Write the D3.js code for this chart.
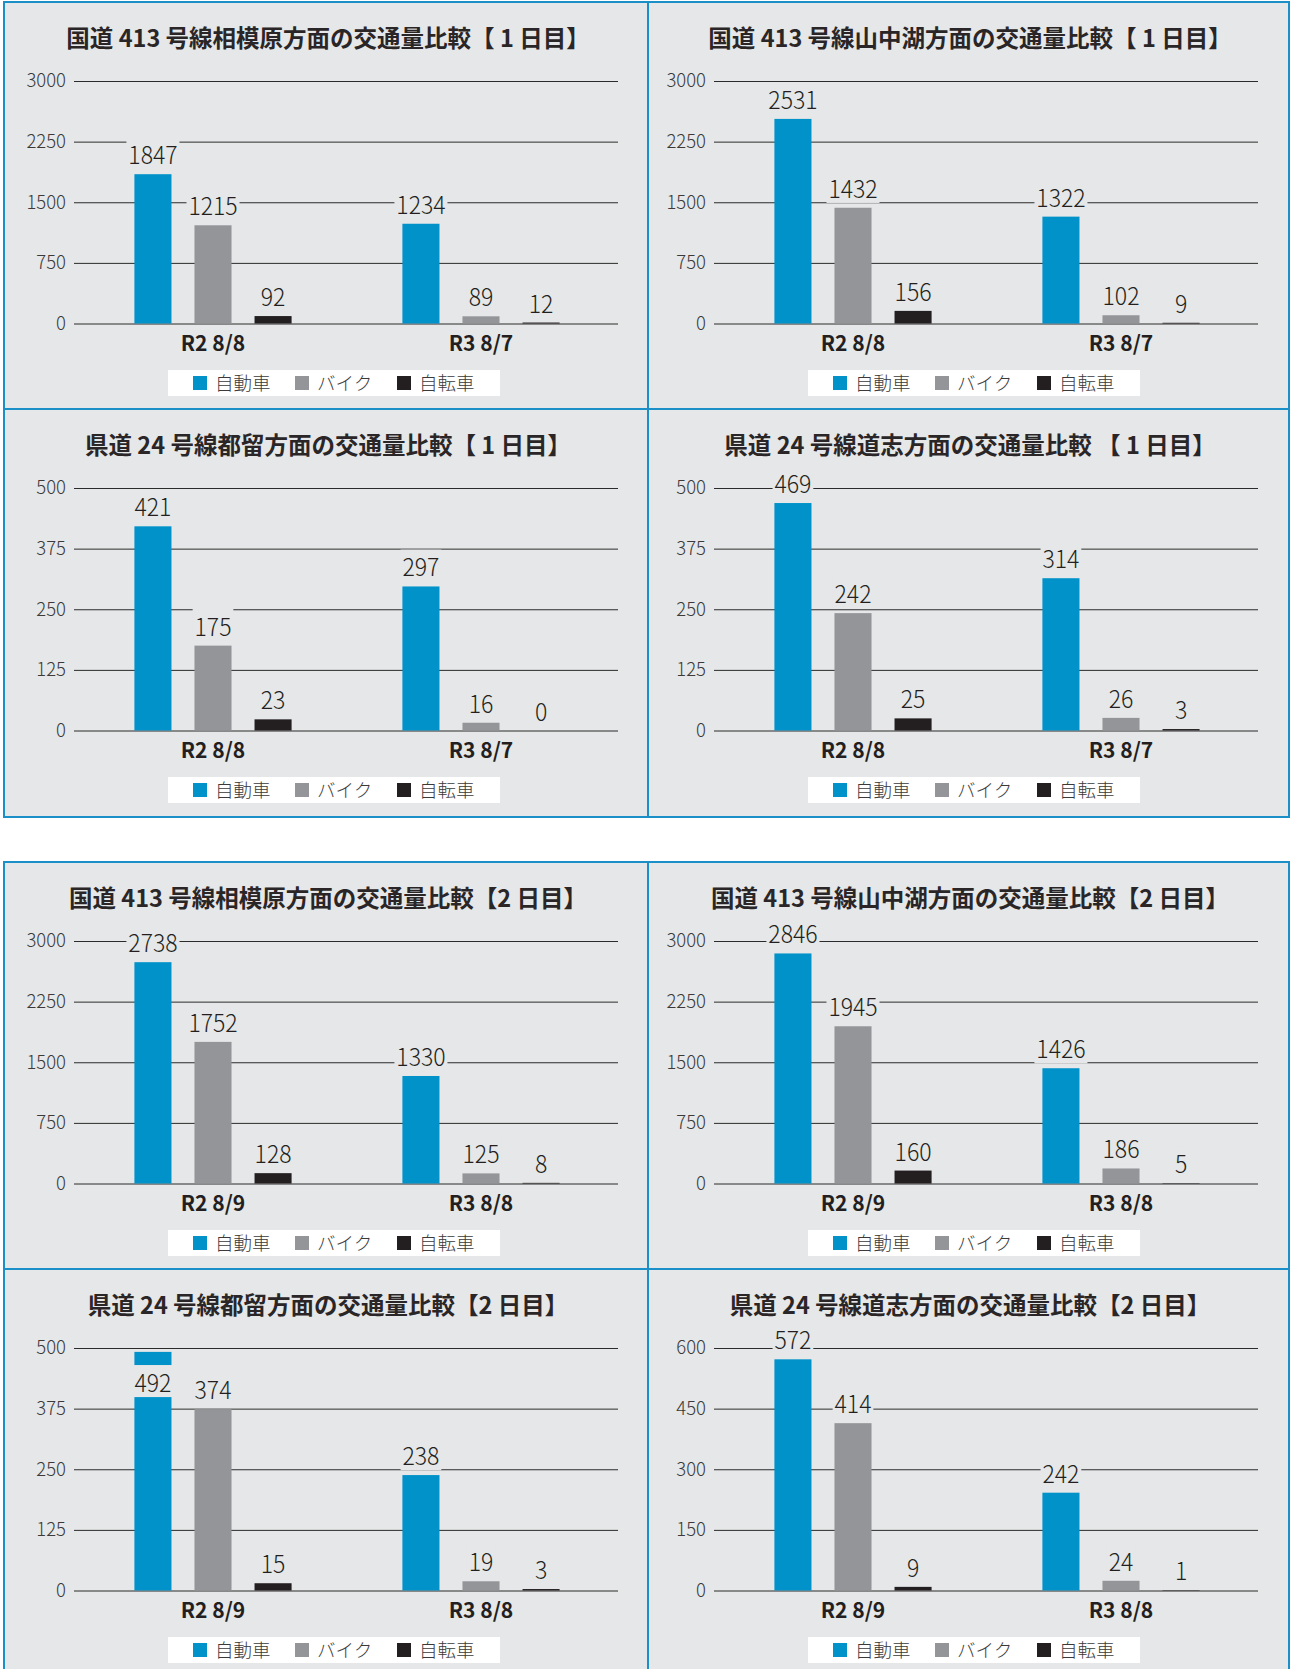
<!DOCTYPE html>
<html lang="ja">
<head>
<meta charset="UTF-8">
<title>交通量比較</title>
<script src="https://d3js.org/d3.v7.min.js"></script>
<style>
  body { margin: 0; background: #fff; }
  svg { display: block; font-family: "Noto Sans CJK JP", "Noto Sans", sans-serif; }
</style>
</head>
<body>
<div id="chart"></div>
<script>
// --- data ---
const titles = [
  "国道 413 号線相模原方面の交通量比較【 1 日目】",
  "国道 413 号線山中湖方面の交通量比較【 1 日目】",
  "県道 24 号線都留方面の交通量比較【 1 日目】",
  "県道 24 号線道志方面の交通量比較 【 1 日目】",
  "国道 413 号線相模原方面の交通量比較【2 日目】",
  "国道 413 号線山中湖方面の交通量比較【2 日目】",
  "県道 24 号線都留方面の交通量比較【2 日目】",
  "県道 24 号線道志方面の交通量比較【2 日目】"
];
const categoriesDay1 = ["R2 8/8", "R3 8/7"];
const categoriesDay2 = ["R2 8/9", "R3 8/8"];
const seriesNames = ["自動車", "バイク", "自転車"];

// one pair [R2, R3] per panel
const cars     = [[1847, 1234], [2531, 1322], [421, 297], [469, 314], [2738, 1330], [2846, 1426], [492, 238], [572, 242]];
const bikes    = [[1215, 89],   [1432, 102],  [175, 16],  [242, 26],  [1752, 125],  [1945, 186],  [374, 19],  [414, 24]];
const bicycles = [[92, 12],     [156, 9],     [23, 0],    [25, 3],    [128, 8],     [160, 5],     [15, 3],    [9, 1]];

const ticks3000 = [0, 750, 1500, 2250, 3000];
const ticks500  = [0, 125, 250, 375, 500];
const ticks600  = [0, 150, 300, 450, 600];
const panelTicks = [ticks3000, ticks3000, ticks500, ticks500, ticks3000, ticks3000, ticks500, ticks600];

const colors = ["#0092c9", "#939598", "#231f20"];
const bg = "#e6e7e8";
const borderColor = "#1b8fc7";

const W = 1291, H = 1669;
const svg = d3.select("#chart").append("svg")
  .attr("width", W)
  .attr("height", H);

// two framed blocks of 2x2 panels
const blocks = [{ top: 2, bottom: 817 }, { top: 862, bottom: 1700 }];
const panelH = 407;

blocks.forEach(b => {
  svg.append("rect")
    .attr("x", 4).attr("y", b.top)
    .attr("width", 1285).attr("height", b.bottom - b.top)
    .attr("fill", bg)
    .attr("stroke", borderColor)
    .attr("stroke-width", 2);
  svg.append("line")
    .attr("x1", 648).attr("x2", 648)
    .attr("y1", b.top).attr("y2", b.bottom)
    .attr("stroke", borderColor).attr("stroke-width", 2);
  svg.append("line")
    .attr("x1", 4).attr("x2", 1289)
    .attr("y1", b.top + panelH).attr("y2", b.top + panelH)
    .attr("stroke", borderColor).attr("stroke-width", 2);
});

function numLabel(parent, x, y, txt, size, scaleX, withBg) {
  const g = parent.append("g")
    .attr("transform", `translate(${x},${y}) scale(${scaleX},1)`);
  const t = g.append("text")
    .attr("text-anchor", "middle")
    .attr("font-size", size)
    .attr("font-weight", 300)
    .attr("fill", "#231f20")
    .text(txt);
  if (withBg) {
    const bb = t.node().getBBox();
    g.insert("rect", "text")
      .attr("x", bb.x - 2).attr("y", bb.y + 2)
      .attr("width", bb.width + 4).attr("height", bb.height - 4)
      .attr("fill", bg);
  }
}

function drawPanel(i) {
  const blk = Math.floor(i / 4), row = Math.floor((i % 4) / 2), col = i % 2;
  const py = blocks[blk].top + row * panelH;
  const ox = col ? 644 : 4;
  const ticks = panelTicks[i];
  const cats = blk ? categoriesDay2 : categoriesDay1;
  const g = svg.append("g");

  const y = d3.scaleLinear()
    .domain([0, ticks[ticks.length - 1]])
    .range([py + 321.5, py + 79]);
  const x0 = d3.scaleBand()
    .domain(cats)
    .range([ox + 75, ox + 611]);
  const x1 = d3.scaleBand()
    .domain(seriesNames)
    .range([-90, 90])
    .paddingInner(0.383)
    .paddingOuter(0.19);

  // title
  g.append("text")
    .attr("x", col ? 970 : 328)
    .attr("y", py + 45)
    .attr("text-anchor", "middle")
    .attr("font-size", 23.5)
    .attr("font-weight", 700)
    .attr("fill", "#2a2627")
    .text(titles[i]);

  // y axis + gridlines
  const ax = g.append("g")
    .attr("transform", `translate(${ox + 70},0)`)
    .call(d3.axisLeft(y).tickValues(ticks).tickFormat(d3.format("d")).tickSize(-544).tickPadding(8));
  ax.select(".domain").remove();
  ax.selectAll(".tick line").attr("stroke", "#2b2b2b").attr("stroke-width", 1);
  ax.selectAll(".tick text")
    .attr("font-size", 18.5)
    .attr("font-weight", 300)
    .attr("font-family", "'Noto Sans CJK JP', sans-serif")
    .attr("fill", "#3a3a3a");

  // bars
  const data = cats.map((c, ci) => ({
    cat: c,
    values: [cars[i][ci], bikes[i][ci], bicycles[i][ci]]
  }));
  const groups = g.selectAll("g.cat")
    .data(data)
    .join("g")
    .attr("class", "cat")
    .attr("transform", d => `translate(${x0(d.cat) + x0.bandwidth() / 2},0)`);

  groups.selectAll("rect")
    .data(d => d.values.map((v, k) => ({ name: seriesNames[k], v: v, k: k })))
    .join("rect")
    .attr("x", d => x1(d.name))
    .attr("width", x1.bandwidth())
    .attr("y", d => y(d.v))
    .attr("height", d => y(0) - y(d.v))
    .attr("fill", d => colors[d.k]);

  // value labels
  groups.each(function (d) {
    const grp = d3.select(this);
    d.values.forEach((v, k) => {
      const top = y(v);
      const inside = top - y.range()[1] < 8;
      const cx = x1(seriesNames[k]) + x1.bandwidth() / 2;
      numLabel(grp, cx, inside ? top + 40 : top - 10, v, 24.5, 0.94, true);
    });
  });

  // category labels
  g.selectAll("text.cat")
    .data(cats)
    .join("text")
    .attr("class", "cat")
    .attr("x", d => x0(d) + x0.bandwidth() / 2)
    .attr("y", py + 348.5)
    .attr("text-anchor", "middle")
    .attr("font-size", 21)
    .attr("font-weight", 700)
    .attr("fill", "#231f20")
    .text(d => d);

  // legend
  const lg = g.append("g").attr("transform", `translate(${ox + 164},${py + 368})`);
  lg.append("rect")
    .attr("width", 332).attr("height", 26)
    .attr("fill", "#fff");
  const itemX = [25, 127, 229];
  seriesNames.forEach((n, k) => {
    lg.append("rect")
      .attr("x", itemX[k]).attr("y", 6)
      .attr("width", 14).attr("height", 14)
      .attr("fill", colors[k]);
    lg.append("text")
      .attr("x", itemX[k] + 22).attr("y", 19.5)
      .attr("font-size", 18.5)
      .attr("font-weight", 300)
      .attr("fill", "#3a3a3a")
      .text(n);
  });
}

titles.forEach((t, i) => drawPanel(i));
</script>
</body>
</html>
